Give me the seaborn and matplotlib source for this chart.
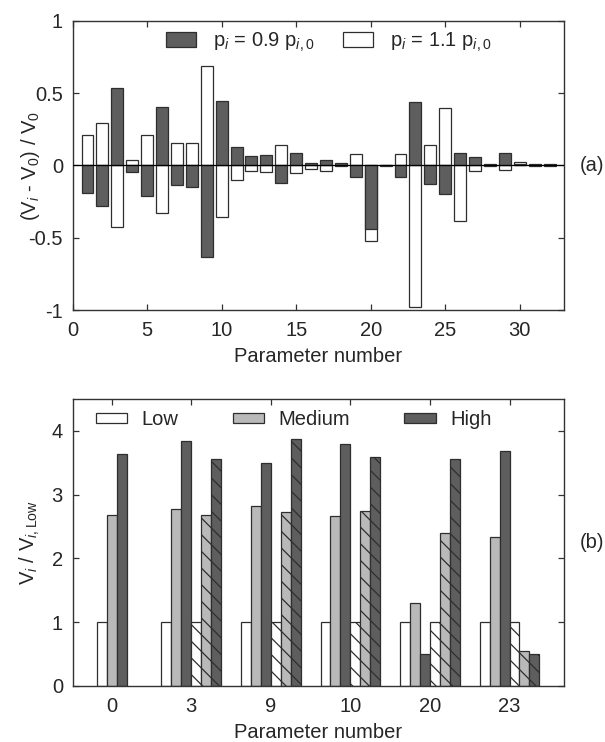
import numpy as np
import pandas as pd
import matplotlib
matplotlib.use('Agg')
import matplotlib.pyplot as plt
import seaborn as sns

# ---- panel (a): relative change of V when each parameter is perturbed
param_num = list(range(1, 33))
v_dec = [-0.193, -0.283, 0.534, -0.042, -0.211, 0.406, -0.135, -0.149, -0.634, 0.444,
         0.125, 0.065, 0.072, -0.121, 0.086, 0.016, 0.035, 0.020, -0.077, -0.437,
         0.003, -0.077, 0.441, -0.130, -0.197, 0.086, 0.060, 0.012, 0.084, 0.010,
         0.010, 0.007]
v_inc = [0.214, 0.295, -0.425, 0.035, 0.211, -0.328, 0.153, 0.156, 0.685, -0.358,
         -0.100, -0.037, -0.042, 0.139, -0.053, -0.023, -0.035, -0.007, 0.081, -0.520,
         -0.003, 0.077, -0.975, 0.139, 0.400, -0.381, -0.037, -0.005, -0.030, 0.024,
         -0.005, -0.004]
a_cases = ['dec', 'inc']
a_labels = ['p$_{i}$ = 0.9 p$_{i,0}$', 'p$_{i}$ = 1.1 p$_{i,0}$']
a_xticks = [0, 5, 10, 15, 20, 25, 30]
a_yticks = [-1, -0.5, 0, 0.5, 1]
a_yticklabels = ['-1', '-0.5', '0', '0.5', '1']

# ---- panel (b): V_i / V_i,Low for selected parameters
groups = ['0', '3', '9', '10', '20', '23']
low = [1, 1, 1, 1, 1, 1]
medium = [2.68, 2.77, 2.825, 2.67, 1.30, 2.33]
high = [3.63, 3.84, 3.49, 3.79, 0.507, 3.68]
low_2 = [np.nan, 1, 1, 1, 1, 1]
medium_2 = [np.nan, 2.68, 2.73, 2.74, 2.40, 0.543]
high_2 = [np.nan, 3.55, 3.87, 3.59, 3.55, 0.507]
b_levels = ['Low', 'Medium', 'High', 'Low 2', 'Medium 2', 'High 2']
b_labels = ['Low', 'Medium', 'High']

DARK = '#5e5e5e'
MID = '#b9b9b9'
EDGE = '#2e2e2e'
FS = 14.5

sns.set_theme(style='white')
plt.rcParams['font.family'] = ['Liberation Sans', 'DejaVu Sans']
plt.rcParams['mathtext.fontset'] = 'custom'
plt.rcParams['mathtext.rm'] = 'Liberation Sans'
plt.rcParams['mathtext.it'] = 'Liberation Sans:italic'
plt.rcParams['axes.unicode_minus'] = False
plt.rcParams['hatch.linewidth'] = 0.9

fig = plt.figure(figsize=(6.05, 7.42), dpi=100)
ax1 = fig.add_axes([0.120, 0.582, 0.813, 0.390])
ax2 = fig.add_axes([0.120, 0.0755, 0.813, 0.387])

# ---------------- panel (a)
df_a = pd.DataFrame({
    'param': param_num * 2,
    'value': v_dec + v_inc,
    'case': ['dec'] * len(v_dec) + ['inc'] * len(v_inc),
})
# white bars first so the dark ones sit on top
sns.barplot(data=df_a, x='param', y='value', hue='case', hue_order=['inc', 'dec'],
            palette={'dec': DARK, 'inc': 'white'}, native_scale=True, dodge=False,
            width=0.8, saturation=1, edgecolor=EDGE, linewidth=0.9,
            errorbar=None, legend=False, ax=ax1)
ax1.axhline(0, color='black', lw=0.9, zorder=5)
ax1.set_xlim(0, 33)
ax1.set_ylim(-1, 1)
ax1.set_xticks(a_xticks)
ax1.set_xticklabels([str(t) for t in a_xticks])
ax1.set_yticks(a_yticks)
ax1.set_yticklabels(a_yticklabels)
ax1.set_xlabel('Parameter number', fontsize=FS)
ax1.set_ylabel('(V$_{i}$ - V$_{0}$) / V$_{0}$', fontsize=FS)
ax1.legend(handles=[ax1.containers[1], ax1.containers[0]], labels=a_labels,
           loc='center left', bbox_to_anchor=(0.19, 0.925), ncol=2, frameon=False,
           fontsize=FS, handlelength=1.5, handleheight=0.75, handletextpad=0.85,
           columnspacing=1.4, borderpad=0, borderaxespad=0)
ax1.text(1.032, 0.5, '(a)', transform=ax1.transAxes, fontsize=FS, va='center')

# ---------------- panel (b)
b_series = [low, medium, high, low_2, medium_2, high_2]
df_b = pd.DataFrame({
    'group': groups * len(b_levels),
    'value': sum(b_series, []),
    'level': [lv for lv in b_levels for _ in groups],
}).dropna()
b_colors = ['white', MID, DARK, 'white', MID, DARK]
sns.barplot(data=df_b, x='group', y='value', hue='level', order=groups,
            hue_order=b_levels, palette=dict(zip(b_levels, b_colors)),
            width=0.75, gap=0, saturation=1, edgecolor=EDGE, linewidth=0.9,
            errorbar=None, legend=False, ax=ax2)
bar_w = 0.75 / len(b_levels)
for k, cont in enumerate(ax2.containers):
    for p in cont.patches:
        # group 0 only has the first three bars: centre them on the tick
        if k < 3 and round(p.get_x() + p.get_width() / 2) == 0:
            p.set_x(p.get_x() + 1.5 * bar_w)
        if k >= 3:
            p.set_hatch('\\\\')
ax2.set_xlim(-0.49, 5.69)
ax2.set_ylim(0, 4.5)
ax2.set_yticks([0, 1, 2, 3, 4])
ax2.set_yticklabels(['0', '1', '2', '3', '4'])
ax2.set_xlabel('Parameter number', fontsize=FS)
ax2.set_ylabel('V$_{i}$ / V$_{i,\\mathrm{Low}}$', fontsize=FS)
ax2.legend(handles=ax2.containers[:3], labels=b_labels,
           loc='center left', bbox_to_anchor=(0.047, 0.927), ncol=3, frameon=False,
           fontsize=FS, handlelength=1.55, handleheight=0.4, handletextpad=0.72,
           columnspacing=2.7, borderpad=0, borderaxespad=0)
ax2.text(1.032, 0.5, '(b)', transform=ax2.transAxes, fontsize=FS, va='center')

for ax in (ax1, ax2):
    for s in ax.spines.values():
        s.set_color('#333333')
        s.set_linewidth(1.0)
        s.set_visible(True)
    ax.tick_params(direction='in', top=True, right=True, bottom=True, left=True,
                   length=4, width=0.9, color='#333333', labelsize=FS)
    ax.tick_params(axis='x', pad=8)
    ax.tick_params(axis='y', pad=7)
    ax.xaxis.set_label_coords(0.5, -0.128)
    ax.xaxis.label.set_va('top')
    ax.yaxis.set_label_coords(-0.062, 0.5)
    ax.grid(False)

fig.savefig('out.png', dpi=100)
